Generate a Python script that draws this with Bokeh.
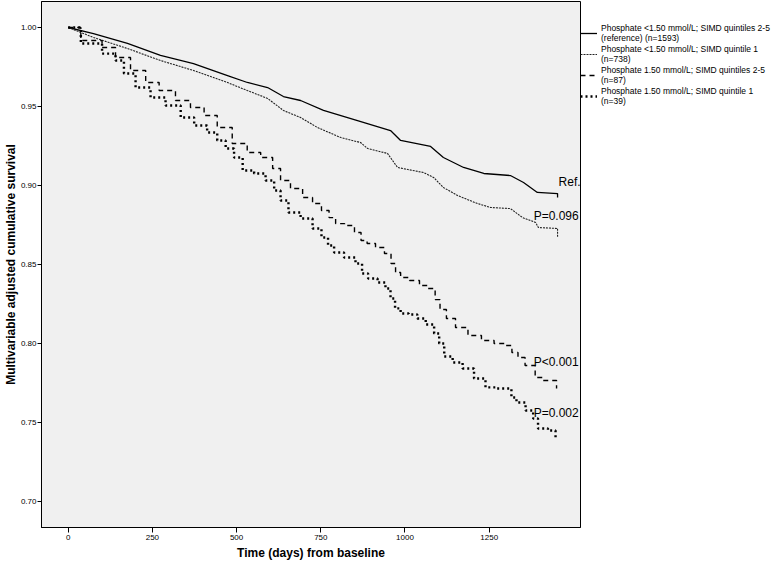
import math
from bokeh.plotting import figure
from bokeh.models import Legend, LegendItem, Label, FixedTicker, Range1d, CustomJSTickFormatter
from bokeh.embed import file_html
from bokeh.resources import INLINE

# ---- data ----
days_ref = [0, 75, 176, 274, 372, 473, 532, 592, 639, 690, 758, 859, 957, 987, 1076, 1114,
            1174, 1234, 1313, 1352, 1393, 1453, 1453]
surv_ref = [1.000, 0.9962, 0.9899, 0.9823, 0.9772, 0.9696, 0.9652, 0.9620, 0.9563, 0.9538,
            0.9475, 0.9411, 0.9348, 0.9285, 0.9247, 0.9177, 0.9114, 0.9076, 0.9063, 0.9019,
            0.8956, 0.8949, 0.8924]

days_q1 = [0, 75, 176, 274, 372, 473, 532, 592, 639, 690, 740, 809, 868, 889, 948, 978, 1055,
           1085, 1114, 1156, 1215, 1254, 1313, 1349, 1388, 1396, 1453, 1453]
surv_q1 = [1.000, 0.9937, 0.9867, 0.9791, 0.9728, 0.9652, 0.9601, 0.9551, 0.9475, 0.9430,
           0.9367, 0.9304, 0.9272, 0.9234, 0.9203, 0.9114, 0.9082, 0.9051, 0.8987, 0.8937,
           0.8886, 0.8861, 0.8854, 0.8797, 0.8766, 0.8734, 0.8728, 0.8671]

days_hp = [0, 75, 126, 155, 215, 245, 295, 342, 384, 423, 462, 512, 551, 592, 622, 639, 681,
           711, 740, 764, 785, 803, 838, 862, 877, 898, 927, 951, 966, 978, 996, 1031, 1055,
           1082, 1097, 1111, 1135, 1165, 1209, 1245, 1284, 1313, 1322, 1349, 1364, 1385, 1388,
           1432, 1450, 1450]
surv_hp = [1.000, 0.9918, 0.9873, 0.9810, 0.9728, 0.9652, 0.9601, 0.9538, 0.9494, 0.9443,
           0.9367, 0.9266, 0.9209, 0.9177, 0.9108, 0.9032, 0.8981, 0.8924, 0.8886, 0.8842,
           0.8797, 0.8759, 0.8747, 0.8703, 0.8652, 0.8633, 0.8608, 0.8570, 0.8506, 0.8449,
           0.8418, 0.8399, 0.8367, 0.8348, 0.8278, 0.8215, 0.8158, 0.8101, 0.8051, 0.8019,
           0.8000, 0.7987, 0.7943, 0.7911, 0.7861, 0.7861, 0.7785, 0.7766, 0.7766, 0.7715]

days_hpq1 = [0, 75, 126, 155, 176, 224, 265, 313, 355, 393, 432, 453, 482, 503, 533, 571, 601,
             622, 639, 669, 711, 740, 764, 779, 800, 838, 868, 877, 904, 933, 951, 963, 978,
             996, 1026, 1047, 1076, 1097, 1106, 1127, 1156, 1186, 1224, 1254, 1293, 1313, 1319,
             1343, 1373, 1388, 1402, 1447, 1447]
surv_hpq1 = [1.000, 0.9899, 0.9835, 0.9791, 0.9709, 0.9620, 0.9557, 0.9506, 0.9430, 0.9380,
             0.9335, 0.9285, 0.9234, 0.9177, 0.9095, 0.9076, 0.9032, 0.8968, 0.8905, 0.8829,
             0.8791, 0.8728, 0.8671, 0.8620, 0.8576, 0.8544, 0.8506, 0.8443, 0.8411, 0.8386,
             0.8348, 0.8285, 0.8222, 0.8190, 0.8184, 0.8158, 0.8120, 0.8063, 0.8000, 0.7918,
             0.7880, 0.7842, 0.7778, 0.7722, 0.7715, 0.7715, 0.7658, 0.7627, 0.7576, 0.7525,
             0.7462, 0.7449, 0.7399]

legend_labels = [
    "Phosphate <1.50 mmol/L; SIMD quintiles 2-5\n(reference) (n=1593)",
    "Phosphate <1.50 mmol/L; SIMD quintile 1\n(n=738)",
    "Phosphate 1.50 mmol/L; SIMD quintiles 2-5\n(n=87)",
    "Phosphate 1.50 mmol/L; SIMD quintile 1\n(n=39)",
]
x_ticks = [0, 250, 500, 750, 1000, 1250]
y_ticks = [0.70, 0.75, 0.80, 0.85, 0.90, 0.95, 1.00]
end_labels = ["Ref.", "P=0.096", "P<0.001", "P=0.002"]

FONT = "Liberation Sans"

p = figure(frame_width=539, frame_height=526, output_backend="svg", toolbar_location=None,
           x_range=Range1d(-79.3, 1521.1), y_range=Range1d(0.68354, 1.01646),
           min_border_left=41, min_border_right=196, min_border_top=1, min_border_bottom=36,
           background_fill_color="#f0f0f0", border_fill_color="white")
p.outline_line_color = "black"
p.outline_line_width = 1
p.xgrid.visible = False
p.ygrid.visible = False

r1 = p.line(days_ref, surv_ref, line_color="black", line_width=1.3)
r2 = p.line(days_q1, surv_q1, line_color="#222222", line_width=1.1, line_dash="2 1")
r3 = p.step(days_hp, surv_hp, mode="center", line_color="black", line_width=1.4,
            line_dash="5 4")
r4 = p.step(days_hpq1, surv_hpq1, mode="center", line_color="black", line_width=2.4,
            line_dash="2 3")

# axes
p.xaxis.ticker = FixedTicker(ticks=x_ticks)
p.yaxis.ticker = FixedTicker(ticks=y_ticks)
p.yaxis.formatter = CustomJSTickFormatter(code="return tick.toFixed(2);")
for ax in (p.xaxis[0], p.yaxis[0]):
    ax.axis_line_color = "black"
    ax.major_tick_line_color = "black"
    ax.major_tick_in = 0
    ax.minor_tick_line_color = None
    ax.major_label_text_font = FONT
    ax.major_label_text_font_size = "8px"
    ax.major_label_text_color = "black"
    ax.axis_label_text_font = FONT
    ax.axis_label_text_font_style = "bold"
    ax.axis_label_text_font_size = "12px"
    ax.axis_label_text_color = "black"
p.xaxis.major_tick_out = 5
p.xaxis.major_label_standoff = 2
p.xaxis.axis_label = "Time (days) from baseline"
p.xaxis.axis_label_standoff = 3
p.yaxis.major_tick_out = 4
p.yaxis.major_label_standoff = 1
p.yaxis.axis_label = "Multivariable adjusted cumulative survival"
p.yaxis.axis_label_standoff = 0
p.yaxis.axis_label_text_line_height = 1.0

# end-of-curve labels
label_pos = [(1456, 0.9025), (1382, 0.8810), (1382, 0.7883), (1382, 0.7557)]
for txt, (lx, ly) in zip(end_labels, label_pos):
    p.add_layout(Label(x=lx, y=ly, text=txt, text_align="left", text_baseline="middle",
                       text_font=FONT, text_font_size="12px", text_color="black"))

legend = Legend(items=[LegendItem(label=lab, renderers=[r]) for lab, r in
                       zip(legend_labels, [r1, r2, r3, r4])],
                location=(0, 421), orientation="vertical")
legend.label_text_font = FONT
legend.label_text_font_size = "8.5px"
legend.label_text_line_height = 0.8
legend.label_text_color = "black"
legend.label_height = 14
legend.glyph_height = 14
legend.glyph_width = 17
legend.label_standoff = 4
legend.spacing = 1
legend.padding = 0
legend.margin = 0
legend.border_line_color = None
legend.background_fill_alpha = 0
p.add_layout(legend, "right")

open("out.html", "w").write(file_html(p, INLINE))
